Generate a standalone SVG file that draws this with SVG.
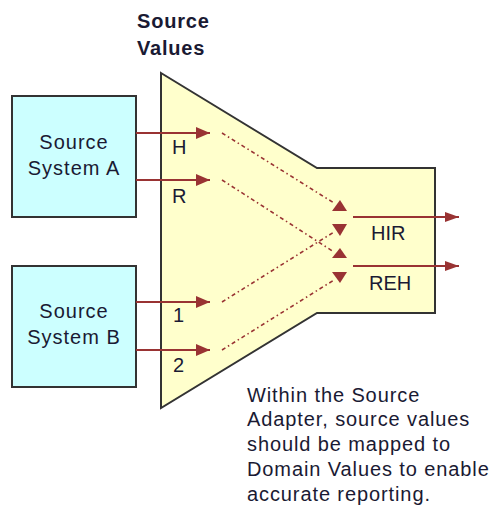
<svg xmlns="http://www.w3.org/2000/svg" width="495" height="510" viewBox="0 0 495 510">
<style>
.txt{font-family:"Liberation Sans",Arial,sans-serif;font-size:20px;fill:#1a1a33}
.box{fill:#ccffff;stroke:#333;stroke-width:2}
.adapter{fill:#ffffcc;stroke:#333;stroke-width:2}
.solid{stroke:#993333;stroke-width:2;fill:none}
.dot{stroke:#993333;stroke-width:1.6;fill:none;stroke-dasharray:4 3 1.5 3}
.head{fill:#993333}
</style>
<defs>
<marker id="ah" markerUnits="userSpaceOnUse" markerWidth="16" markerHeight="14" refX="14" refY="6" orient="auto">
<path d="M0,0 L14,6 L0,12 z" fill="#993333"/>
</marker>
<marker id="ah2" markerUnits="userSpaceOnUse" markerWidth="16" markerHeight="12" refX="14" refY="5" orient="auto">
<path d="M0,0 L14,5 L0,10 z" fill="#993333"/>
</marker>
</defs>
<g id="title">
<text class="txt" x="137" y="28" font-weight="bold" font-size="21" letter-spacing="0.8">Source</text>
<text class="txt" x="137" y="55" font-weight="bold" font-size="21" letter-spacing="0.8">Values</text>
</g>
<g id="adapter">
<polygon class="adapter" points="161,73 317,168 435,168 435,313 317,313 161,408"/>
<text class="txt" x="172" y="154">H</text>
<text class="txt" x="172" y="203">R</text>
<text class="txt" x="173" y="322">1</text>
<text class="txt" x="173" y="372">2</text>
<text class="txt" x="371" y="240">HIR</text>
<text class="txt" x="369" y="290">REH</text>
</g>
<g id="sourceA">
<rect class="box" x="12" y="96" width="124" height="121"/>
<text class="txt" x="74" y="149" text-anchor="middle" letter-spacing="1">Source</text>
<text class="txt" x="74" y="175" text-anchor="middle" letter-spacing="1">System A</text>
</g>
<g id="sourceB">
<rect class="box" x="12" y="266" width="124" height="121"/>
<text class="txt" x="74" y="318" text-anchor="middle" letter-spacing="1">Source</text>
<text class="txt" x="74" y="344" text-anchor="middle" letter-spacing="1">System B</text>
</g>
<g id="connectors">
<line class="solid" x1="136" y1="133" x2="210" y2="133" marker-end="url(#ah)"/>
<line class="solid" x1="136" y1="180" x2="210" y2="180" marker-end="url(#ah)"/>
<line class="solid" x1="136" y1="302" x2="210" y2="302" marker-end="url(#ah)"/>
<line class="solid" x1="136" y1="350" x2="210" y2="350" marker-end="url(#ah)"/>
<line class="dot" x1="222" y1="133" x2="334" y2="203"/>
<line class="dot" x1="222" y1="180" x2="334" y2="252"/>
<line class="dot" x1="222" y1="302" x2="334" y2="232"/>
<line class="dot" x1="222" y1="350" x2="334" y2="280"/>
<polygon class="head" points="332,211 347,211 340,200"/>
<polygon class="head" points="332,224 347,224 340,236"/>
<polygon class="head" points="332,258 347,258 340,248"/>
<polygon class="head" points="332,272 347,272 340,283"/>
<line class="solid" x1="353" y1="217" x2="459" y2="217" marker-end="url(#ah2)"/>
<line class="solid" x1="353" y1="266" x2="459" y2="266" marker-end="url(#ah2)"/>
</g>
<g id="note">
<text class="txt" x="247" y="402" letter-spacing="0.9">Within the Source</text>
<text class="txt" x="247" y="426" letter-spacing="0.9">Adapter, source values</text>
<text class="txt" x="247" y="451" letter-spacing="0.9">should be mapped to</text>
<text class="txt" x="247" y="476" letter-spacing="0.9">Domain Values to enable</text>
<text class="txt" x="247" y="501" letter-spacing="0.9">accurate reporting.</text>
</g>
</svg>
